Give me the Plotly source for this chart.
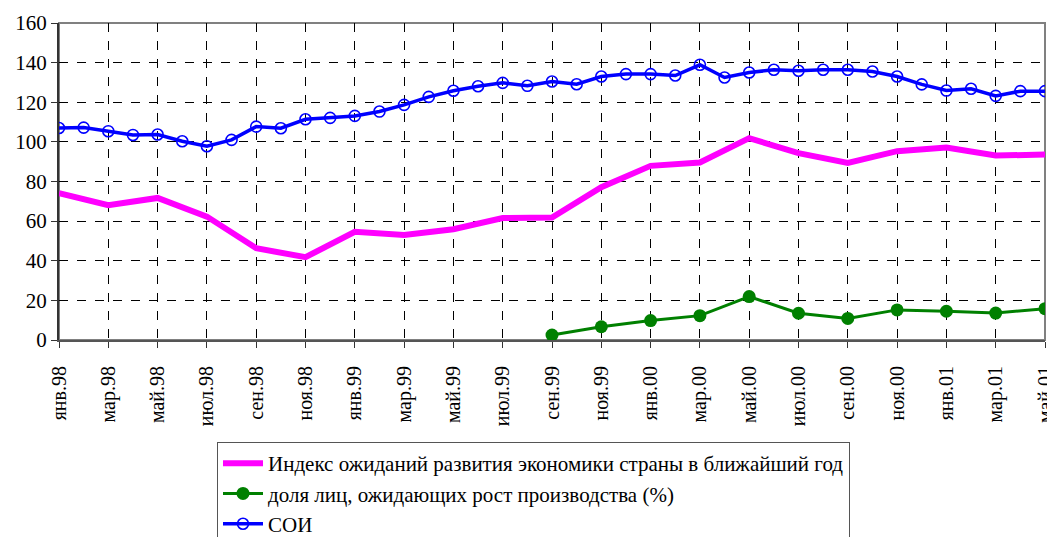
import plotly.graph_objects as go

months = ["янв.98","фев.98","мар.98","апр.98","май.98","июн.98","июл.98","авг.98","сен.98","окт.98","ноя.98","дек.98",
          "янв.99","фев.99","мар.99","апр.99","май.99","июн.99","июл.99","авг.99","сен.99","окт.99","ноя.99","дек.99",
          "янв.00","фев.00","мар.00","апр.00","май.00","июн.00","июл.00","авг.00","сен.00","окт.00","ноя.00","дек.00",
          "янв.01","фев.01","мар.01","апр.01","май.01"]

tick_labels = ["янв.98","мар.98","май.98","июл.98","сен.98","ноя.98",
               "янв.99","мар.99","май.99","июл.99","сен.99","ноя.99",
               "янв.00","мар.00","май.00","июл.00","сен.00","ноя.00",
               "янв.01","мар.01","май.01"]

soi = [107, 107.2, 105.4, 103.5, 103.7, 100.3, 97.8, 101, 107.7, 106.9, 111.4, 112.1,
       113.1, 115.3, 118.7, 122.7, 125.8, 128.1, 129.8, 128.3, 130.5, 129.1, 133, 134.2,
       134.2, 133.5, 138.9, 132.5, 135, 136.4, 135.9, 136.4, 136.4, 135.5, 133, 129,
       125.9, 126.8, 123.2, 125.6, 125.6]

index_months = tick_labels
index_vals = [74.1, 68, 71.7, 62.3, 46.3, 41.8, 54.6, 53, 55.9, 61.6, 61.8, 77.1,
              87.9, 89.6, 101.9, 94.3, 89.4, 95.3, 97.1, 93.1, 93.6]

growth_months = ["сен.99","ноя.99","янв.00","мар.00","май.00","июл.00","сен.00","ноя.00","янв.01","мар.01","май.01"]
growth_vals = [2.5, 6.7, 9.8, 12.3, 21.9, 13.5, 10.9, 15.2, 14.5, 13.6, 15.8]

FONT = "Liberation Serif"

OFF = 8
W, H = 1055 - OFF, 537 - OFF

fig = go.Figure()
fig.add_trace(go.Scatter(
    x=index_months, y=index_vals, mode="lines",
    name="Индекс ожиданий развития экономики страны в ближайший год",
    line=dict(color="#FF00FF", width=6)))
fig.add_trace(go.Scatter(
    x=growth_months, y=growth_vals, mode="lines+markers",
    name="доля лиц, ожидающих рост производства (%)",
    line=dict(color="#008000", width=3),
    marker=dict(symbol="circle", size=13, color="#008000")))
fig.add_trace(go.Scatter(
    x=months, y=soi, mode="lines+markers", name="СОИ",
    line=dict(color="#0000FF", width=3.5),
    marker=dict(symbol="circle-open", size=11, color="#0000FF", line=dict(width=1.6))))

fig.update_layout(
    width=W, height=H,
    margin=dict(l=59 - OFF, r=10, t=23 - OFF, b=537 - 340, autoexpand=False),
    paper_bgcolor="white", plot_bgcolor="white",
    font=dict(family=FONT, size=21, color="black"),
    showlegend=True,
    legend=dict(
        x=(217 - 59) / 986, y=(340 - 442) / 317, xanchor="left", yanchor="top",
        bordercolor="#555555", borderwidth=1, bgcolor="white",
        font=dict(family=FONT, size=21, color="black"),
        tracegroupgap=0, itemwidth=40),
)
fig.update_xaxes(
    type="category", categoryorder="array", categoryarray=months,
    range=[0, 40], automargin=False,
    tickmode="array", tickvals=tick_labels, ticktext=tick_labels,
    tickangle=-90, tickfont=dict(family=FONT, size=20),
    ticks="outside", ticklen=6, tickcolor="#333333", ticklabelstandoff=10,
    showgrid=True, gridcolor="#000000", griddash="dash", gridwidth=1,
    showline=True, linecolor="#555555", linewidth=2, mirror=False,
    zeroline=False,
)
fig.update_yaxes(
    range=[0, 160], automargin=False,
    tickmode="array", tickvals=[0, 20, 40, 60, 80, 100, 120, 140, 160],
    tickfont=dict(family=FONT, size=21),
    ticks="outside", ticklen=6, tickcolor="#333333",
    showgrid=True, gridcolor="#000000", griddash="dash", gridwidth=1,
    showline=True, linecolor="#333333", linewidth=2,
    zeroline=False,
)
fig.add_shape(type="rect", xref="paper", yref="paper", x0=0, y0=0, x1=1, y1=1,
              line=dict(color="#808080", width=2), layer="below")

fig.write_html("out.html")
